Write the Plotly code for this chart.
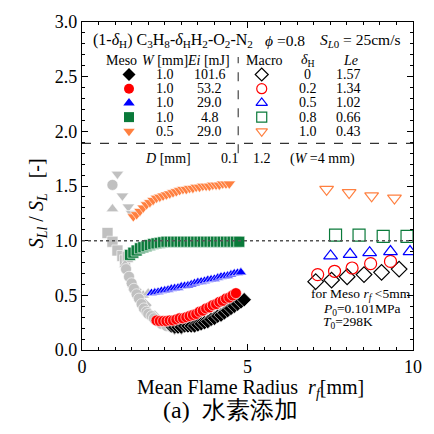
import plotly.graph_objects as go

# ---------------- data ----------------
# Meso (filled) series
meso_d0_r = [2.7, 2.8, 2.9, 3.0, 3.1, 3.2, 3.3, 3.4, 3.5, 3.6, 3.7, 3.8, 3.9, 4.0, 4.1, 4.2, 4.3, 4.4, 4.5, 4.6, 4.7, 4.8, 4.9]
meso_d0_v = [0.22, 0.21, 0.21, 0.21, 0.22, 0.22, 0.22, 0.22, 0.23, 0.24, 0.25, 0.26, 0.28, 0.29, 0.31, 0.32, 0.34, 0.36, 0.38, 0.40, 0.42, 0.44, 0.46]

meso_d02_r = [2.25, 2.35, 2.45, 2.55, 2.65, 2.75, 2.85, 2.95, 3.05, 3.15, 3.25, 3.35, 3.45, 3.55, 3.65, 3.75, 3.85, 3.95, 4.05, 4.15, 4.25, 4.35, 4.45, 4.55, 4.65]
meso_d02_v = [0.27, 0.265, 0.265, 0.265, 0.27, 0.27, 0.28, 0.29, 0.29, 0.30, 0.31, 0.32, 0.33, 0.35, 0.36, 0.38, 0.39, 0.41, 0.42, 0.44, 0.45, 0.47, 0.48, 0.50, 0.52]

meso_d05_r = [2.1, 2.2, 2.3, 2.4, 2.5, 2.6, 2.7, 2.8, 2.9, 3.0, 3.1, 3.2, 3.3, 3.4, 3.5, 3.6, 3.7, 3.8, 3.9, 4.0, 4.1, 4.2, 4.3, 4.4, 4.5, 4.6, 4.7, 4.8]
meso_d05_v = [0.52, 0.525, 0.53, 0.54, 0.545, 0.55, 0.56, 0.565, 0.57, 0.58, 0.585, 0.59, 0.60, 0.61, 0.62, 0.625, 0.63, 0.64, 0.645, 0.65, 0.66, 0.67, 0.675, 0.68, 0.69, 0.70, 0.705, 0.71]

meso_d08_r = [1.45, 1.55, 1.65, 1.75, 1.85, 1.95, 2.05, 2.15, 2.25, 2.35, 2.45, 2.55, 2.65, 2.75, 2.85, 2.95, 3.05, 3.15, 3.25, 3.35, 3.45, 3.55, 3.65, 3.75, 3.85, 3.95, 4.05, 4.15, 4.25, 4.35, 4.45, 4.55, 4.65, 4.75]
meso_d08_v = [0.87, 0.89, 0.91, 0.93, 0.94, 0.95, 0.96, 0.97, 0.975, 0.98, 0.985, 0.99, 0.99, 0.99, 0.99, 0.99, 0.99, 0.99, 0.99, 0.99, 0.99, 0.99, 0.99, 0.99, 0.99, 0.99, 0.99, 0.99, 0.99, 0.99, 0.99, 0.99, 0.99, 0.99]

meso_d10_r = [1.55, 1.65, 1.75, 1.85, 1.95, 2.05, 2.15, 2.25, 2.35, 2.45, 2.55, 2.65, 2.75, 2.85, 2.95, 3.05, 3.15, 3.25, 3.35, 3.45, 3.55, 3.65, 3.75, 3.85, 3.95, 4.05, 4.15, 4.25, 4.35, 4.45]
meso_d10_v = [1.22, 1.24, 1.27, 1.30, 1.33, 1.35, 1.37, 1.39, 1.40, 1.41, 1.42, 1.43, 1.44, 1.45, 1.46, 1.47, 1.47, 1.48, 1.48, 1.49, 1.49, 1.50, 1.50, 1.50, 1.51, 1.51, 1.51, 1.52, 1.52, 1.52]

# gray (early, ignition-affected) meso points
gray_tri_down_r = [1.07, 1.22, 1.40, 1.5]
gray_tri_down_v = [1.61, 1.41, 1.31, 1.25]
gray_circle_r = [0.92, 1.33, 1.42, 1.5, 1.57, 1.65, 1.72, 1.8, 1.87, 1.95, 2.0, 2.1, 2.17, 2.3, 2.4, 2.55, 2.7]
gray_circle_v = [1.51, 0.74, 0.67, 0.61, 0.56, 0.51, 0.47, 0.42, 0.38, 0.35, 0.33, 0.31, 0.29, 0.26, 0.24, 0.22, 0.21]
gray_tri_up_r = [0.92, 1.3, 1.55, 1.85, 2.0]
gray_tri_up_v = [1.29, 0.78, 0.60, 0.50, 0.52]
gray_square_r = [0.77, 0.92, 1.07, 1.22, 1.3, 1.38]
gray_square_v = [1.07, 0.99, 0.91, 0.86, 0.82, 0.85]
gray_diamond_r = [1.6, 1.9, 2.2, 2.5, 2.8, 3.0]
gray_diamond_v = [0.55, 0.41, 0.30, 0.24, 0.20, 0.20]

# Macro (open) series
macro_d0_r = [7.06, 7.54, 8.01, 8.52, 9.05, 9.58]
macro_d0_v = [0.625, 0.64, 0.67, 0.69, 0.71, 0.74]
macro_d02_r = [7.12, 7.63, 8.16, 8.72, 9.32]
macro_d02_v = [0.69, 0.72, 0.75, 0.79, 0.81]
macro_d05_r = [7.51, 8.1, 8.69, 9.32, 9.91]
macro_d05_v = [0.86, 0.875, 0.89, 0.90, 0.90]
macro_d08_r = [7.66, 8.37, 9.1, 9.82]
macro_d08_v = [1.05, 1.05, 1.04, 1.04]
macro_d10_r = [7.39, 8.07, 8.75, 9.44]
macro_d10_v = [1.47, 1.44, 1.41, 1.39]

# legend table values
W_mm = ["1.0", "1.0", "1.0", "1.0", "0.5"]
Ei_mJ = ["101.6", "53.2", "29.0", "4.8", "29.0"]
delta_H = ["0", "0.2", "0.5", "0.8", "1.0"]
Le = ["1.57", "1.34", "1.02", "0.66", "0.43"]

COLORS = ["#000000", "#ff0000", "#0000ff", "#0a7a3a", "#ff8040"]
GRAY = "#c0c0c0"
SERIF = "Liberation Serif, Times New Roman, serif"

fig = go.Figure()

def add(x, y, sym, color, size, line_color="white", lw=0.6):
    fig.add_trace(go.Scatter(x=x, y=y, mode="markers", showlegend=False, hoverinfo="skip",
                             marker=dict(symbol=sym, color=color, size=size,
                                         line=dict(color=line_color, width=lw))))

# gray early points
add(gray_square_r, gray_square_v, "square", GRAY, 11)
add(gray_tri_up_r, gray_tri_up_v, "triangle-up", GRAY, 11)
add(gray_tri_down_r, gray_tri_down_v, "triangle-down", GRAY, 11)
add(gray_diamond_r, gray_diamond_v, "diamond", GRAY, 11)
add(gray_circle_r, gray_circle_v, "circle", GRAY, 11)

# meso filled series
add(meso_d08_r, meso_d08_v, "square", COLORS[3], 11)
add(meso_d10_r, meso_d10_v, "triangle-down", COLORS[4], 11)
add(meso_d05_r, meso_d05_v, "triangle-up", COLORS[2], 10)
add(meso_d0_r, meso_d0_v, "diamond", COLORS[0], 11)
add(meso_d02_r, meso_d02_v, "circle", COLORS[1], 11)

# macro open series
open_syms = ["diamond-open", "circle-open", "triangle-up-open", "square-open", "triangle-down-open"]
macro = [(macro_d0_r, macro_d0_v), (macro_d02_r, macro_d02_v), (macro_d05_r, macro_d05_v),
         (macro_d08_r, macro_d08_v), (macro_d10_r, macro_d10_v)]
for (xr, yv), sym, c in zip(macro, open_syms, COLORS):
    fig.add_trace(go.Scatter(x=xr, y=yv, mode="markers", showlegend=False, hoverinfo="skip",
                             marker=dict(symbol=sym, color=c, size=12, line=dict(color=c, width=1.2))))

# reference lines
fig.add_shape(type="line", x0=0, x1=10, y0=1, y1=1, line=dict(color="#555555", width=1.5, dash="dot"))
fig.add_shape(type="line", x0=0, x1=10, y0=1.89, y1=1.89, line=dict(color="#333333", width=1.3, dash="dash"))
fig.add_shape(type="line", x0=4.72, x1=4.72, y0=1.80, y1=2.68, line=dict(color="#555555", width=1.3, dash="dash"))

# legend table
row_y = [2.52, 2.39, 2.26, 2.13, 2.0]
meso_syms = ["diamond", "circle", "triangle-up", "square", "triangle-down"]
for i in range(5):
    fig.add_trace(go.Scatter(x=[1.42], y=[row_y[i]], mode="markers", showlegend=False, hoverinfo="skip",
                             marker=dict(symbol=meso_syms[i], color=COLORS[i], size=10)))
    fig.add_trace(go.Scatter(x=[5.43], y=[row_y[i]], mode="markers", showlegend=False, hoverinfo="skip",
                             marker=dict(symbol=open_syms[i], color=COLORS[i], size=10,
                                         line=dict(color=COLORS[i], width=1.2))))

def txt(x, y, s, size=14, xanchor="center", xref="x", yref="y", **kw):
    fig.add_annotation(x=x, y=y, xref=xref, yref=yref, text=s, showarrow=False, xanchor=xanchor,
                       yanchor="middle", font=dict(family=SERIF, size=size, color="black"), **kw)

for i in range(5):
    txt(2.52, row_y[i], W_mm[i])
    txt(3.86, row_y[i], Ei_mJ[i])
    txt(6.82, row_y[i], delta_H[i])
    txt(8.04, row_y[i], Le[i])

txt(0.27, 2.83, "(1-<i>δ</i><sub>H</sub>) C<sub>3</sub>H<sub>8</sub>-<i>δ</i><sub>H</sub>H<sub>2</sub>-O<sub>2</sub>-N<sub>2</sub>",
    size=16, xanchor="left")
txt(6.12, 2.83, "<i>ϕ</i> =0.8", size=15.5)
txt(9.68, 2.83, "<i>S</i><sub><i>L</i>0</sub> = 25cm/s", size=15.5, xanchor="right")
txt(1.2, 2.65, "Meso")
txt(2.5, 2.65, "<i>W</i> [mm]")
txt(3.82, 2.65, "<i>Ei</i> [mJ]")
txt(5.52, 2.65, "Macro")
txt(6.82, 2.65, "<i>δ</i><sub>H</sub>")
txt(8.1, 2.65, "<i>Le</i>")

txt(2.61, 1.75, "<i>D</i> [mm]")
txt(4.48, 1.75, "0.1")
txt(5.43, 1.75, "1.2")
txt(7.27, 1.75, "(<i>W</i> =4 mm)")

txt(6.85, 0.505, "for Meso <i>r</i><sub><i>f</i></sub> &lt;5mm", size=13.5, xanchor="left")
txt(7.21, 0.375, "<i>P</i><sub>0</sub>=0.101MPa", size=13.5, xanchor="left")
txt(7.21, 0.255, "<i>T</i><sub>0</sub>=298K", size=13.5, xanchor="left")

# axis titles and caption
txt(-0.134, 0.446, "<i>S</i><sub><i>Ll</i></sub> / <i>S</i><sub><i>L</i></sub>   [-]", size=20,
    xref="paper", yref="paper", textangle=-90)
txt(0.51, -0.117, "Mean Flame Radius  <i>r</i><sub><i>f</i></sub>[mm]", size=20, xref="paper", yref="paper")
txt(0.45, -0.183, "(a)  水素添加", size=24, xref="paper", yref="paper")

axis_common = dict(showline=True, linecolor="black", linewidth=1.2, mirror="allticks",
                   ticks="inside", tickcolor="black", ticklen=6, showgrid=False, zeroline=False,
                   tickfont=dict(family=SERIF, size=18, color="black"))
fig.update_xaxes(range=[0, 10], tickvals=[0, 5, 10], ticktext=["0", "5", "10"],
                 minor=dict(ticks="inside", dtick=0.5, ticklen=3, tickcolor="black"), **axis_common)
fig.update_yaxes(range=[0, 3], tickvals=[0, 0.5, 1.0, 1.5, 2.0, 2.5, 3.0],
                 ticktext=["0.0", "0.5", "1.0", "1.5", "2.0", "2.5", "3.0"],
                 minor=dict(ticks="inside", dtick=0.1, ticklen=3, tickcolor="black"), **axis_common)

fig.update_layout(width=434, height=434, margin=dict(l=82, r=15, t=14, b=84),
                  plot_bgcolor="white", paper_bgcolor="white", showlegend=False)

fig.write_html("out.html", config={"displayModeBar": False},
               post_script="document.body.style.margin='0';document.body.style.overflow='hidden';")
